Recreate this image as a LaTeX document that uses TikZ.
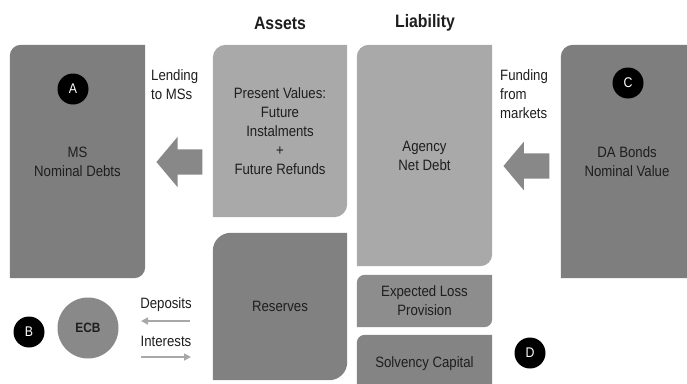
\documentclass[tikz,border=0pt]{standalone}
\usepackage{fontspec}
\setmainfont{Liberation Sans}[FakeStretch=0.88]
\usetikzlibrary{shapes.arrows,backgrounds,arrows.meta,calc}
\definecolor{dkgray}{HTML}{7E7E7E}
\definecolor{ltgray}{HTML}{A9A9A9}
\definecolor{resgray}{HTML}{818181}
\definecolor{elpgray}{HTML}{8D8D8D}
\definecolor{solgray}{HTML}{848484}
\definecolor{ecbgray}{HTML}{898989}
\definecolor{arrgray}{HTML}{888888}
\definecolor{thingray}{HTML}{A8A8A8}
\definecolor{txt}{HTML}{1E1E1E}
\newcommand\mybodyfont{\fontsize{15}{19}\selectfont}
\newcommand\tlbrfill[3]{%
  \fill[#1] (#2.south west) -- ([yshift=-#3]#2.north west)
    arc[start angle=180,end angle=90,radius=#3] -- (#2.north east)
    -- ([yshift=#3]#2.south east)
    arc[start angle=0,end angle=-90,radius=#3] -- cycle;}
\tikzset{
  boxnode/.style={inner sep=0pt, align=center, font=\mybodyfont, text=txt},
  lettercirc/.style={circle, fill=black, text=white, minimum size=31pt, inner sep=0pt, font=\fontsize{14}{14}\selectfont},
  lbl/.style={inner sep=0pt, font=\mybodyfont, text=txt},
  head/.style={inner sep=0pt, font=\fontsize{18}{20}\selectfont\bfseries, text=txt},
  blockarrow/.style={single arrow, fill=arrgray, inner xsep=0pt, inner ysep=12.5pt, single arrow head indent=0pt,
    single arrow tip angle=100, shape border rotate=180, minimum width=0pt, anchor=tip},
  thin/.style={draw=thingray, line width=1.6pt, -{Triangle[length=7pt,width=7pt]}}
}
\begin{document}
\begin{tikzpicture}[x=1pt,y=-1pt]
\useasboundingbox (0,0) rectangle (687,383);
% headings
\node[head] (assets) at (280,23) {Assets};
\node[head] (liab) at (425,23) {Liability};
% boxes
\node[boxnode, minimum width=135pt, minimum height=233pt] (A) at (77.5,161.5) {MS\\Nominal Debts};
\node[boxnode, minimum width=134pt, minimum height=172pt] (PV) at (280,131) {Present Values:\\Future\\Instalments\\+\\Future Refunds};
\node[boxnode, minimum width=134pt, minimum height=147pt] (R) at (280,306.5) {Reserves};
\node[boxnode, minimum width=135pt, minimum height=221pt] (AG) at (424.5,155.5) {Agency\\Net Debt};
\node[boxnode, minimum width=135pt, minimum height=52pt] (ELP) at (424.5,301) {Expected Loss\\Provision};
\node[boxnode, minimum width=135pt, minimum height=57pt] (SC) at (424.5,363.5) {Solvency Capital};
\node[boxnode, minimum width=139pt, minimum height=233pt] (DAbox) at (630.5,161.5) {};
\node[boxnode] (DA) at (627,162) {DA Bonds\\Nominal Value};
\begin{scope}[on background layer]
  \fill[white] (0,0) rectangle (687,383);
  \tlbrfill{dkgray}{A}{11pt}
  \tlbrfill{ltgray}{PV}{13pt}
  \tlbrfill{resgray}{R}{18pt}
  \tlbrfill{ltgray}{AG}{12pt}
  \tlbrfill{elpgray}{ELP}{8pt}
  \tlbrfill{solgray}{SC}{8pt}
  \tlbrfill{dkgray}{DAbox}{12pt}
\end{scope}
% letter circles
\node[lettercirc] (cA) at (73,89) {A};
\node[lettercirc] (cC) at (628,83) {C};
\node[lettercirc] (cB) at (29,332) {B};
\node[lettercirc] (cD) at (530,353) {D};
\node[circle, fill=ecbgray, minimum size=61pt, inner sep=0pt, text=txt, font=\fontsize{13.5}{14}\selectfont\bfseries] (ECB) at (88,328) {ECB};
% block arrows
\node[blockarrow, minimum height=46pt, single arrow head extend=12.5pt] (lend) at ([xshift=11pt]A.east |- 0,162) {};
\node[blockarrow, minimum height=46pt, single arrow head extend=11.5pt] (fund) at ([xshift=11pt]AG.east |- 0,166) {};
% labels
\node[lbl, anchor=west, align=left] (lendlbl) at (151,85) {Lending\\to MSs};
\node[lbl, anchor=west, align=left] (fundlbl) at (500,94) {Funding\\from\\markets};
% deposits / interests
\coordinate (depR) at (190,321);
\coordinate (depL) at (141,321);
\coordinate (intL) at (141,357);
\coordinate (intR) at (191,357);
\draw[thin] (depR) -- (depL);
\draw[thin] (intL) -- (intR);
\node[lbl] (dep) at (166,305) {Deposits};
\node[lbl] (int) at (166,341) {Interests};
\end{tikzpicture}
\end{document}
